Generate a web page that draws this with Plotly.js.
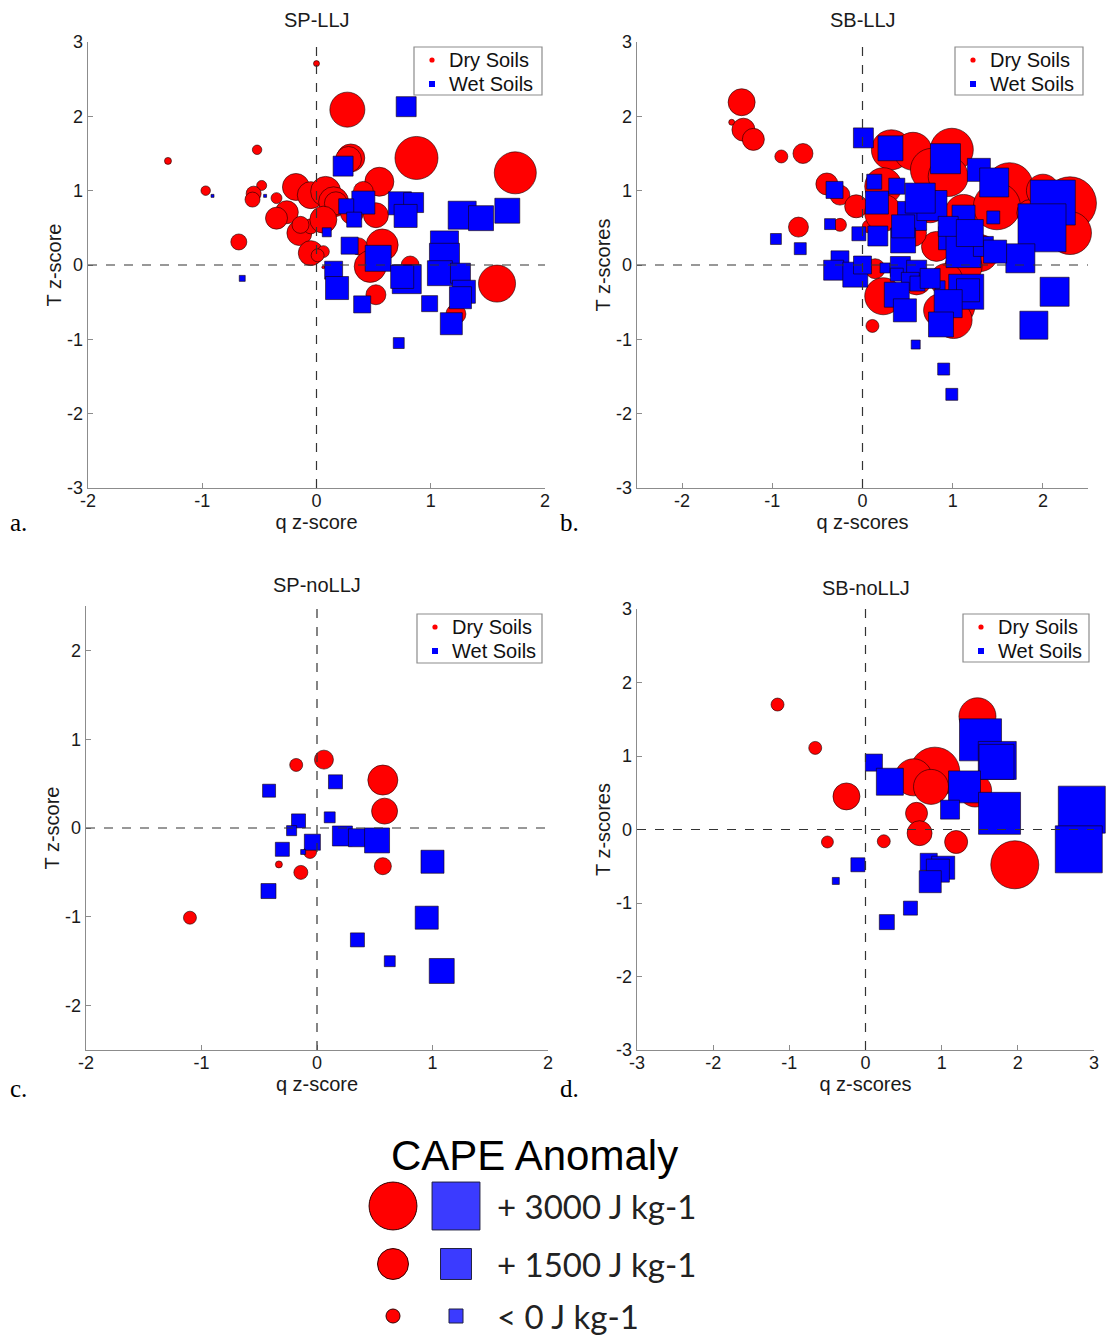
<!DOCTYPE html>
<html>
<head>
<meta charset="utf-8">
<script src="https://cdn.plot.ly/plotly-3.0.1.min.js"></script>
<style>
  html, body { margin: 0; padding: 0; background: #fff; }
  #chart { width: 1107px; height: 1336px; }
</style>
</head>
<body>
<div id="chart"></div>
<script>
// ---- Data: q and T z-scores with CAPE anomaly (J/kg) per event ----

// SP-LLJ
const spllj_dry_q = [0.00, -1.30, -0.97, -0.52, -0.48, -0.55, -0.56, -0.35, -0.68, -0.18, -0.26, -0.35, -0.15, -0.05, -0.14, -0.05, 0.06, 0.01, -0.05, 0.08, 0.15, 0.17, 0.06, 0.27, 0.30, 0.28, 0.55, 0.41, 0.875, 1.74, 0.52, 0.31, 0.575, 0.37, 0.47, 0.82, 0.52, 1.58, 1.22, 0.06];
const spllj_dry_T = [2.71, 1.40, 1.00, 1.55, 1.07, 0.96, 0.88, 0.90, 0.31, 1.05, 0.71, 0.63, 0.43, 0.52, 0.54, 0.16, 0.18, 0.13, 0.94, 0.99, 0.85, 0.83, 0.61, 2.09, 1.44, 1.42, 1.12, 0.99, 1.44, 1.24, 0.67, 0.70, 0.27, 0.25, -0.02, 0.00, -0.40, -0.25, -0.66, -0.03];
const spllj_dry_cape = [-710, -620, -400, -400, -350, 90, 90, -270, 180, 1150, 800, 710, 970, 90, 270, 970, -180, -90, 1150, 1420, 1420, 800, 1150, 1860, 1240, 1060, 1330, 530, 2570, 2480, 970, 800, 1590, 270, 1590, 350, 530, 2040, 530, -980];

const spllj_wet_q = [0.785, 0.233, -0.91, -0.45, -0.65, 0.41, 0.26, 0.33, 0.09, 0.73, 0.85, 0.78, 1.275, 1.44, 1.67, 0.29, 0.54, 1.12, 1.12, 0.15, 0.18, 0.79, 0.75, 1.08, 1.26, 1.29, 1.26, 0.40, 0.99, 1.18, 0.72];
const spllj_wet_T = [2.13, 1.33, 0.93, 0.93, -0.18, 0.84, 0.79, 0.61, 0.44, 0.83, 0.84, 0.66, 0.67, 0.63, 0.73, 0.26, 0.09, 0.27, 0.09, -0.07, -0.31, -0.19, -0.16, -0.11, -0.11, -0.36, -0.44, -0.53, -0.52, -0.79, -1.05];
const spllj_wet_cape = [530, 530, -980, -980, -710, 800, 90, 90, -440, 800, 530, 800, 1240, 970, 970, 270, 1060, 1240, 1420, 350, 800, 1330, 800, 970, 530, 800, 710, 270, 180, 710, -270];

// SB-LLJ
const sbllj_dry_q = [-1.34, -1.45, -1.32, -1.21, -0.90, -0.66, -0.395, -0.25, -0.07, -0.71, -0.25, 0.07, 0.11, 0.23, 0.14, 0.32, 0.56, 0.99, 0.77, 0.95, 1.63, 2.30, 2.30, 0.23, 0.23, 0.75, 1.12, 1.49, 1.30, 1.12, 0.93, 1.04, 0.86, 1.01, 0.60, 0.82, 0.56, 1.86, 2.00];
const sbllj_dry_T = [2.19, 1.92, 1.82, 1.69, 1.46, 1.50, 1.09, 0.94, 0.79, 0.51, 0.54, 0.52, -0.82, -0.42, -0.05, 1.55, 1.53, 1.55, 1.28, 1.19, 1.06, 0.83, 0.43, 1.06, 0.70, 0.79, 0.70, 0.79, 0.16, -0.02, -0.20, -0.56, -0.61, -0.74, -0.20, 0.25, 0.43, 0.70, 1.00];
const sbllj_dry_cape = [1150, -710, 800, 710, -90, 530, 710, 530, 800, 530, -90, -90, -90, 2040, 530, 2300, 2120, 2570, 2570, 2300, 2920, 3450, 2570, 2040, 2040, 1680, 2040, 2920, 2040, 2040, 1680, 2040, 1680, 2040, 1420, 1420, 1150, 1150, 1680];

const sbllj_wet_q = [0.01, 0.31, 0.92, 1.29, 1.46, 2.11, 1.99, 1.75, 2.13, 1.90, 0.13, 0.38, -0.31, 0.16, 0.55, 0.77, 0.64, 1.12, 1.45, -0.36, -0.04, -0.96, -0.69, 0.17, 0.45, 0.97, 1.12, 1.34, 1.47, -0.25, -0.32, -0.08, 0.00, 0.25, 0.42, 0.60, 0.38, 0.53, 0.61, 0.86, 0.75, 0.38, 0.47, 1.15, 1.17, 0.95, 0.87, 0.59, 0.90, 0.99, 0.45, 0.95, 1.19];
const sbllj_wet_T = [1.71, 1.57, 1.43, 1.28, 1.11, 0.84, 0.50, 0.09, -0.36, -0.81, 1.12, 1.06, 1.01, 0.84, 0.66, 0.80, 0.90, 0.65, 0.64, 0.55, 0.42, 0.35, 0.22, 0.39, 0.33, 0.36, 0.20, 0.25, 0.18, 0.07, -0.07, -0.13, 0.00, -0.04, -0.02, -0.07, -0.13, -0.22, -0.25, -0.28, -0.18, -0.40, -0.61, -0.36, -0.34, -0.52, -0.80, -1.07, -1.40, -1.74, 0.52, 0.52, 0.43];
const sbllj_wet_cape = [530, 970, 1420, 800, 1330, 2740, 3010, 1330, 1330, 1240, 90, 180, 270, 800, 1330, 1420, 1420, 800, -90, -270, 0, -270, -180, 530, 970, 800, 1860, 530, 800, 350, 530, 970, 350, -350, 530, 530, -90, 350, 90, -350, 530, 970, 800, 1860, 800, 1240, 970, -440, -180, -180, 800, 530, 1150];

// SP-noLLJ
const spnollj_dry_q = [-0.18, 0.06, 0.57, 0.585, 0.57, -0.06, -0.33, -0.14, -1.10];
const spnollj_dry_T = [0.71, 0.77, 0.54, 0.19, -0.43, -0.27, -0.41, -0.50, -1.01];
const spnollj_dry_cape = [-90, 440, 1420, 1060, 270, -90, -620, 0, -90];

const spnollj_wet_q = [-0.415, 0.16, -0.16, 0.11, -0.22, -0.04, -0.30, -0.12, 0.22, 0.35, 0.52, 1.00, -0.42, 0.95, 0.35, 0.63, 1.08];
const spnollj_wet_T = [0.42, 0.52, 0.08, 0.12, -0.03, -0.16, -0.24, -0.27, -0.09, -0.11, -0.14, -0.38, -0.71, -1.01, -1.26, -1.50, -1.61];
const spnollj_wet_cape = [-90, 0, 0, -270, -350, 180, 0, -800, 530, 350, 970, 800, 90, 800, 0, -270, 970];

// SB-noLLJ
const sbnollj_dry_q = [-1.155, -0.66, -0.25, -0.50, 0.24, 1.47, 0.91, 0.63, 0.86, 1.44, 0.67, 0.71, 1.19, 1.96];
const sbnollj_dry_T = [1.70, 1.11, 0.45, -0.17, -0.16, 1.54, 0.78, 0.71, 0.58, 0.53, 0.22, -0.05, -0.17, -0.48];
const sbnollj_dry_cape = [-90, -90, 1150, -180, -90, 2040, 3190, 2040, 1860, 1680, 710, 970, 800, 3010];

const sbnollj_wet_q = [0.11, 0.32, 1.51, 1.73, 1.72, 1.30, 1.11, 1.76, 2.84, 2.80, -0.10, -0.39, 0.83, 1.02, 0.95, 0.85, 0.59, 0.28];
const sbnollj_wet_T = [0.91, 0.65, 1.22, 0.94, 0.92, 0.58, 0.27, 0.22, 0.27, -0.27, -0.48, -0.70, -0.44, -0.52, -0.56, -0.71, -1.07, -1.26];
const sbnollj_wet_cape = [270, 1150, 2480, 2120, 1860, 1590, 440, 2480, 2920, 2920, 0, -620, 270, 800, 800, 710, 0, 90];

// Size key values (J/kg)
const keyCape = [3000, 1500, 0];
const keyLabels = ['+ 3000 J kg-1', '+ 1500 J kg-1', '< 0 J kg-1'];

const seriesNames = ['Dry Soils', 'Wet Soils'];
const panelTitles = ['SP-LLJ', 'SB-LLJ', 'SP-noLLJ', 'SB-noLLJ'];
const panelLetters = ['a.', 'b.', 'c.', 'd.'];

// ---- Drawing ----
const W = 1107, H = 1336;
const SANS = 'Liberation Sans, Arial, sans-serif';
const RED = '#ff0000', BLUE = '#0000ff';
const AXIS_GREY = '#8c8c8c';

function capeToSize(c) { return Math.max(3, 14 + 0.0113 * c); }
function px(x) { return x / W; }
function py(y) { return 1 - y / H; }
function xdom(l, r) { return [px(l), px(r)]; }
function ydom(t, b) { return [py(b), py(t)]; }
function intTicks(range) {
  const v = [];
  for (let k = Math.ceil(range[0]); k <= Math.floor(range[1]); k++) v.push(k);
  return v;
}

const panels = [
  { dry: [spllj_dry_q, spllj_dry_T, spllj_dry_cape], wet: [spllj_wet_q, spllj_wet_T, spllj_wet_cape],
    box: [88, 545, 42, 488], xr: [-2, 2], yr: [-3, 3], xt: 'q z-score', yt: 'T z-score',
    leg: [414, 542, 47, 95], letter: [8, 522], titleY: 20 },
  { dry: [sbllj_dry_q, sbllj_dry_T, sbllj_dry_cape], wet: [sbllj_wet_q, sbllj_wet_T, sbllj_wet_cape],
    box: [637, 1088, 42, 488], xr: [-2.5, 2.5], yr: [-3, 3], xt: 'q z-scores', yt: 'T z-scores',
    leg: [955, 1083, 47, 95], letter: [558, 522], titleY: 20 },
  { dry: [spnollj_dry_q, spnollj_dry_T, spnollj_dry_cape], wet: [spnollj_wet_q, spnollj_wet_T, spnollj_wet_cape],
    box: [86, 548, 606, 1050], xr: [-2, 2], yr: [-2.5, 2.5], xt: 'q z-score', yt: 'T z-score',
    leg: [417, 542, 614, 663], letter: [8, 1088], titleY: 585 },
  { dry: [sbnollj_dry_q, sbnollj_dry_T, sbnollj_dry_cape], wet: [sbnollj_wet_q, sbnollj_wet_T, sbnollj_wet_cape],
    box: [637, 1094, 609, 1050], xr: [-3, 3], yr: [-3, 3], xt: 'q z-scores', yt: 'T z-scores',
    leg: [963, 1089, 614, 662], letter: [558, 1088], titleY: 588 }
];

const traces = [];
const layout = {
  width: W, height: H,
  margin: { l: 0, r: 0, t: 0, b: 0, autoexpand: false },
  paper_bgcolor: '#fff', plot_bgcolor: 'rgba(0,0,0,0)',
  showlegend: false,
  font: { family: SANS, color: '#1a1a1a' },
  shapes: [], annotations: []
};

const axisBase = {
  showline: true, linecolor: AXIS_GREY, linewidth: 1.3,
  ticks: 'inside', ticklen: 5, tickcolor: AXIS_GREY, tickwidth: 1,
  showgrid: false, zeroline: false, mirror: false, fixedrange: true,
  tickmode: 'array',
  tickfont: { family: SANS, size: 18, color: '#1a1a1a' }
};

panels.forEach((p, i) => {
  const n = i + 1;
  const xa = 'x' + (n === 1 ? '' : n), ya = 'y' + (n === 1 ? '' : n);
  const xk = 'xaxis' + (n === 1 ? '' : n), yk = 'yaxis' + (n === 1 ? '' : n);
  const [l, r, t, b] = p.box;
  const xv = intTicks(p.xr), yv = intTicks(p.yr);

  layout[xk] = Object.assign({}, axisBase, {
    domain: xdom(l, r), range: p.xr, anchor: ya,
    tickvals: xv, ticktext: xv.map(String), ticklabelstandoff: -4,
    title: { text: p.xt, font: { family: SANS, size: 20, color: '#1a1a1a' }, standoff: 0 }
  });
  layout[yk] = Object.assign({}, axisBase, {
    domain: ydom(t, b), range: p.yr, anchor: xa,
    tickvals: yv, ticktext: yv.map(String),
    title: { text: p.yt, font: { family: SANS, size: 20, color: '#1a1a1a' }, standoff: 0 }
  });

  // events, marker size from CAPE anomaly
  [['dry', RED, 'circle'], ['wet', BLUE, 'square']].forEach(([key, col, sym], k) => {
    const [q, T, cape] = p[key];
    traces.push({
      type: 'scatter', mode: 'markers', x: q, y: T, xaxis: xa, yaxis: ya,
      name: seriesNames[k], cliponaxis: false, hoverinfo: 'x+y+text',
      text: cape.map(c => 'CAPE ' + c + ' J/kg'),
      marker: { symbol: sym, color: col, size: cape.map(capeToSize), opacity: 1,
                line: { color: 'rgba(20,0,0,0.85)', width: 0.7 } }
    });
  });

  // dashed zero lines
  layout.shapes.push(
    { type: 'line', xref: xa, yref: ya + ' domain', x0: 0, x1: 0, y0: 0, y1: 1,
      line: { color: '#333', width: 1.2, dash: 'dash' }, layer: 'above' },
    { type: 'line', xref: xa + ' domain', yref: ya, x0: 0, x1: 1, y0: 0, y1: 0,
      line: { color: '#333', width: 1.2, dash: 'dash' }, layer: 'above' }
  );

  // in-panel legend box: Dry Soils / Wet Soils
  const [gl, gr, gt, gb] = p.leg;
  layout.shapes.push({
    type: 'rect', xref: 'paper', yref: 'paper', x0: px(gl), x1: px(gr), y0: py(gb), y1: py(gt),
    line: { color: AXIS_GREY, width: 1.2 }, fillcolor: '#fff', layer: 'above'
  });
  const rowY = [gt + 13, gt + 37];
  const mx = gl + 18, mr = 2.6;
  layout.shapes.push(
    { type: 'circle', xref: 'paper', yref: 'paper', x0: px(mx - mr), x1: px(mx + mr),
      y0: py(rowY[0] + mr), y1: py(rowY[0] - mr), fillcolor: RED, line: { width: 0 }, layer: 'above' },
    { type: 'rect', xref: 'paper', yref: 'paper', x0: px(mx - 3), x1: px(mx + 3),
      y0: py(rowY[1] + 3), y1: py(rowY[1] - 3), fillcolor: BLUE, line: { width: 0 }, layer: 'above' }
  );
  seriesNames.forEach((s, k) => {
    layout.annotations.push({
      xref: 'paper', yref: 'paper', x: px(gl + 33), y: py(rowY[k]), showarrow: false,
      xanchor: 'left', yanchor: 'middle', text: s,
      font: { family: SANS, size: 20, color: '#111' }
    });
  });

  // panel title and letter
  layout.annotations.push(
    { xref: 'paper', yref: 'paper', x: px((l + r) / 2), y: py(p.titleY),
      text: panelTitles[i], showarrow: false, xanchor: 'center', yanchor: 'middle',
      font: { family: SANS, size: 20, color: '#1a1a1a' } },
    { xref: 'paper', yref: 'paper', x: px(p.letter[0]), y: py(p.letter[1]),
      text: panelLetters[i], showarrow: false, xanchor: 'left', yanchor: 'middle',
      font: { family: 'Liberation Serif, Times New Roman, serif', size: 25, color: '#000' } }
  );
});

// ---- Marker size key ----
layout.xaxis5 = { domain: [0, 1], range: [0, W], visible: false, fixedrange: true, anchor: 'y5' };
layout.yaxis5 = { domain: [0, 1], range: [H, 0], visible: false, fixedrange: true, anchor: 'x5' };
const keyRowY = [1206, 1264, 1316];
traces.push({
  type: 'scatter', mode: 'markers', xaxis: 'x5', yaxis: 'y5', hoverinfo: 'skip',
  x: keyCape.map(() => 393), y: keyRowY, cliponaxis: false,
  marker: { symbol: 'circle', color: RED, opacity: 1, size: keyCape.map(capeToSize), line: { color: '#300', width: 1 } }
});
traces.push({
  type: 'scatter', mode: 'markers', xaxis: 'x5', yaxis: 'y5', hoverinfo: 'skip',
  x: keyCape.map(() => 456), y: keyRowY, cliponaxis: false,
  marker: { symbol: 'square', color: '#3b3bff', opacity: 1, size: keyCape.map(capeToSize), line: { color: '#202040', width: 1 } }
});
layout.annotations.push({
  xref: 'paper', yref: 'paper', x: px(534), y: py(1155), showarrow: false,
  xanchor: 'center', yanchor: 'middle', text: 'CAPE Anomaly',
  font: { family: SANS, size: 42, color: '#000' }
});
keyLabels.forEach((s, k) => {
  layout.annotations.push({
    xref: 'paper', yref: 'paper', x: px(495), y: py(keyRowY[k]), showarrow: false,
    xanchor: 'left', yanchor: 'middle', text: s,
    font: { family: 'Lato, Open Sans, sans-serif', size: 33, color: '#222' }
  });
});

Plotly.newPlot('chart', traces, layout, { displayModeBar: false, staticPlot: true });
</script>
</body>
</html>
